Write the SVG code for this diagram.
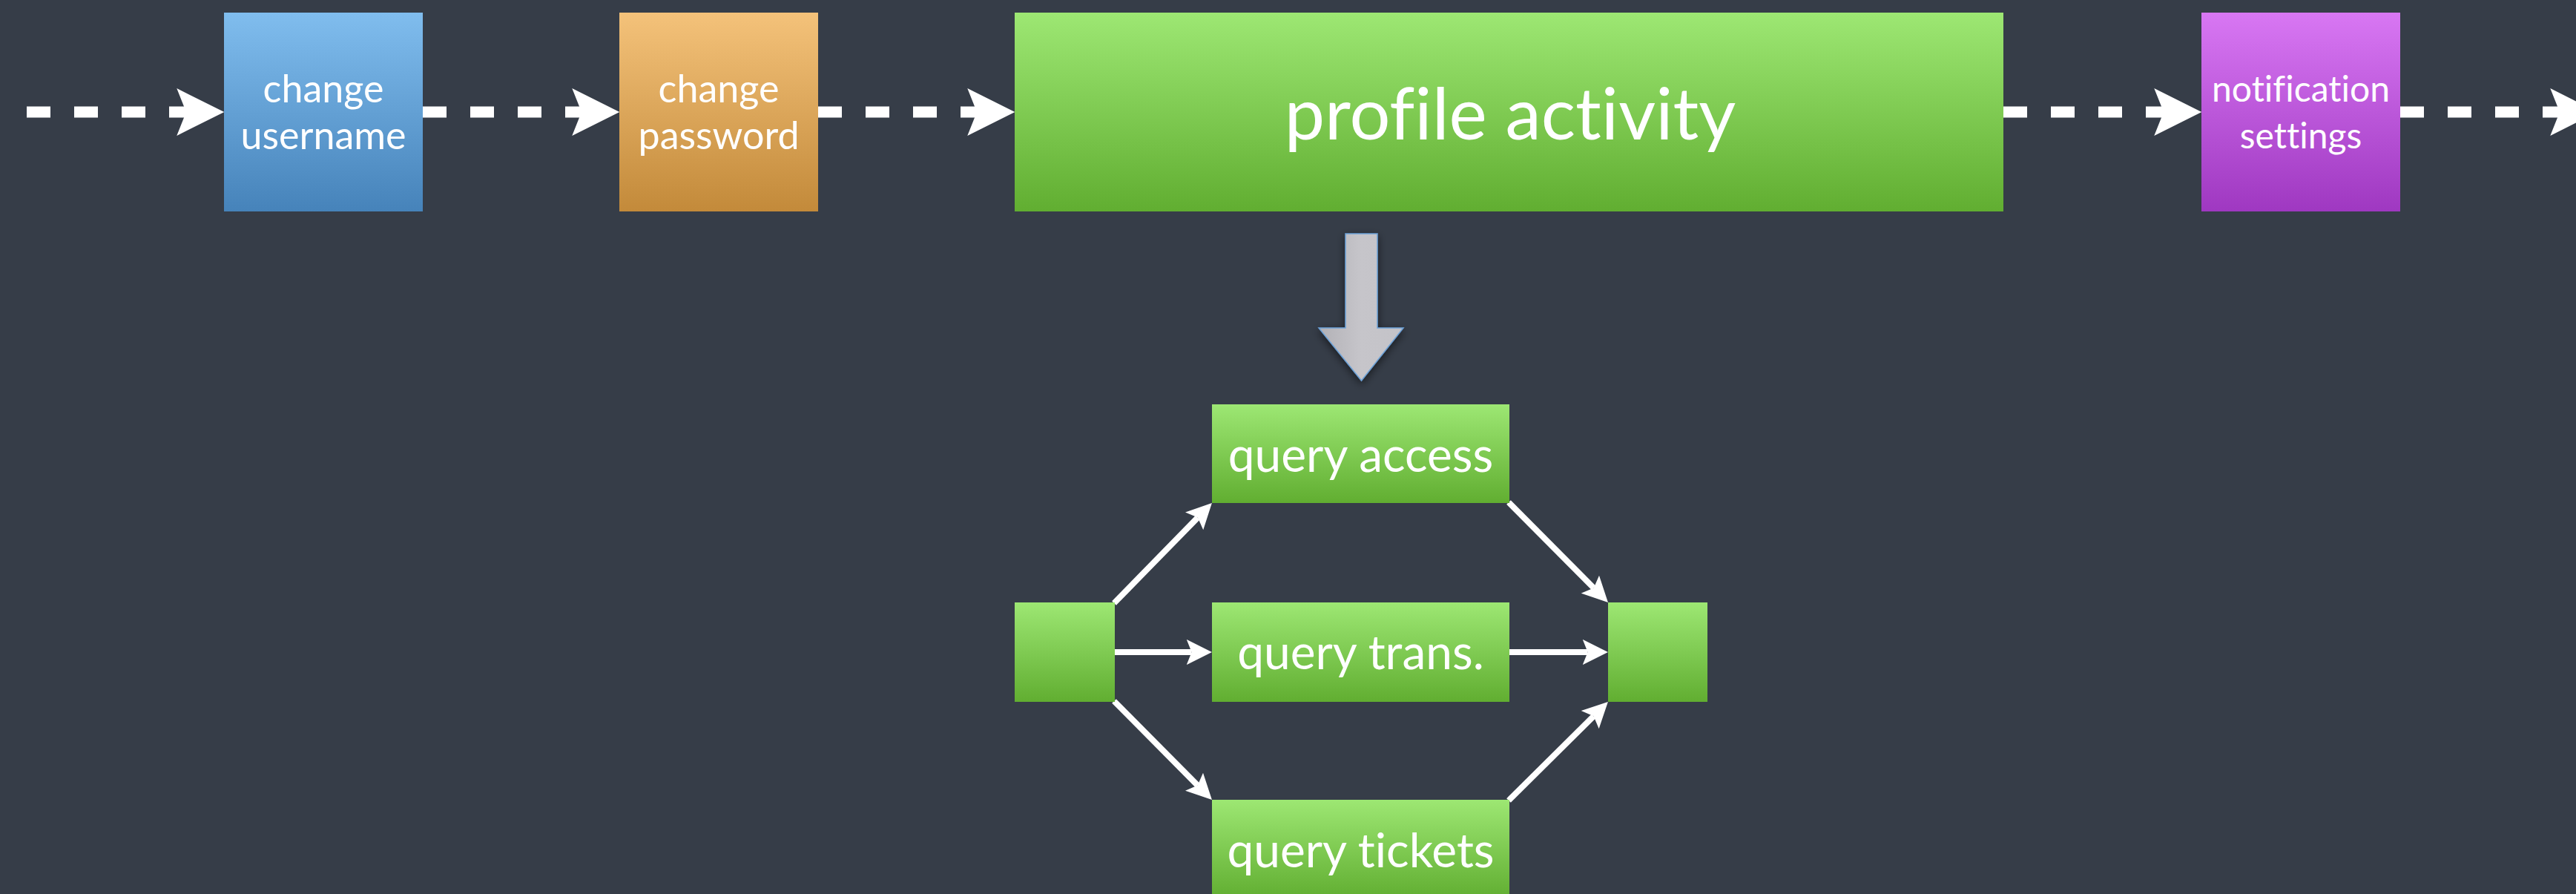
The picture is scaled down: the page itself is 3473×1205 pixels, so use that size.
<svg xmlns="http://www.w3.org/2000/svg" width="3473" height="1205" viewBox="0 0 3473 1205">
<style>
.lbl{fill:#ffffff;font-family:Lato,"Liberation Sans",sans-serif;text-anchor:middle;font-variant-ligatures:none;font-feature-settings:"liga" 0,"clig" 0}
.dash{stroke:#ffffff;stroke-width:15;stroke-dasharray:32 32;fill:none;marker-end:url(#head)}
.solid{stroke:#ffffff;stroke-width:8;fill:none;marker-end:url(#head)}
</style>
<defs>
<linearGradient id="gBlue" x1="0" y1="0" x2="0" y2="1"><stop offset="0" stop-color="#80bdee"/><stop offset="1" stop-color="#4683ba"/></linearGradient>
<linearGradient id="gOrange" x1="0" y1="0" x2="0" y2="1"><stop offset="0" stop-color="#f4c27a"/><stop offset="1" stop-color="#c38a3a"/></linearGradient>
<linearGradient id="gGreen" x1="0" y1="0" x2="0" y2="1"><stop offset="0" stop-color="#9de773"/><stop offset="1" stop-color="#61ae31"/></linearGradient>
<linearGradient id="gPurple" x1="0" y1="0" x2="0" y2="1"><stop offset="0" stop-color="#d877f3"/><stop offset="1" stop-color="#9f38c1"/></linearGradient>
<linearGradient id="gGray" x1="0" y1="0" x2="1" y2="0"><stop offset="0" stop-color="#b2b1b6"/><stop offset="0.5" stop-color="#c6c5ca"/><stop offset="1" stop-color="#c4c3c8"/></linearGradient>
<filter id="shadow" x="-50%" y="-20%" width="200%" height="150%"><feDropShadow dx="0" dy="4" stdDeviation="6" flood-color="#000000" flood-opacity="0.55"/></filter>
<marker id="head" viewBox="0 -2.2 4.3 4.4" refX="0.85" refY="0" markerWidth="4.3" markerHeight="4.4" orient="auto" markerUnits="strokeWidth">
<path d="M0,-2.13 L4.27,0 L0,2.13 L0.85,0 Z" fill="#ffffff"/>
</marker>
</defs>
<rect x="0" y="0" width="3473" height="1205" fill="#363d48"/>
<g id="connectors">
<line class="dash" x1="36" y1="151" x2="251" y2="151"/>
<line class="dash" x1="570" y1="151" x2="784" y2="151"/>
<line class="dash" x1="1103" y1="151" x2="1317" y2="151"/>
<line class="dash" x1="2701" y1="151" x2="2917" y2="151"/>
<line class="dash" x1="3236" y1="151" x2="3451" y2="151"/>
<polygon points="1814,315 1857,315 1857,442 1892,442 1835.5,513 1778,442 1814,442" fill="url(#gGray)" stroke="#6ea3d9" stroke-width="1.5" filter="url(#shadow)"/>
<line class="solid" x1="1502" y1="813" x2="1614.8" y2="697.6"/>
<line class="solid" x1="1503" y1="879" x2="1606.6" y2="879"/>
<line class="solid" x1="1502" y1="945" x2="1614.7" y2="1058.6"/>
<line class="solid" x1="2034" y1="677" x2="2148.7" y2="792.5"/>
<line class="solid" x1="2035" y1="879" x2="2140.6" y2="879"/>
<line class="solid" x1="2034" y1="1079" x2="2148.5" y2="965.3"/>
</g>
<g id="change-username">
<rect x="302" y="17" width="268" height="268" fill="url(#gBlue)"/>
<text class="lbl" x="436" y="138" font-size="52">change</text>
<text class="lbl" x="436" y="201" font-size="52">username</text>
</g>
<g id="change-password">
<rect x="835" y="17" width="268" height="268" fill="url(#gOrange)"/>
<text class="lbl" x="969" y="138" font-size="52">change</text>
<text class="lbl" x="969" y="201" font-size="52">password</text>
</g>
<g id="profile-activity">
<rect x="1368" y="17" width="1333" height="268" fill="url(#gGreen)"/>
<text class="lbl" x="2036" y="188" font-size="97">profile activity</text>
</g>
<g id="notification-settings">
<rect x="2968" y="17" width="268" height="268" fill="url(#gPurple)"/>
<text class="lbl" x="3102" y="137" font-size="48">notification</text>
<text class="lbl" x="3102" y="200" font-size="48">settings</text>
</g>
<g id="start">
<rect x="1368" y="812" width="135" height="134" fill="url(#gGreen)"/>
</g>
<g id="query-access">
<rect x="1634" y="545" width="401" height="133" fill="url(#gGreen)"/>
<text class="lbl" x="1834.5" y="636" font-size="64">query access</text>
</g>
<g id="query-trans">
<rect x="1634" y="812" width="401" height="134" fill="url(#gGreen)"/>
<text class="lbl" x="1834.5" y="902" font-size="64">query trans.</text>
</g>
<g id="query-tickets">
<rect x="1634" y="1078" width="401" height="133" fill="url(#gGreen)"/>
<text class="lbl" x="1834.5" y="1169" font-size="64">query tickets</text>
</g>
<g id="end">
<rect x="2168" y="812" width="134" height="134" fill="url(#gGreen)"/>
</g>
</svg>
